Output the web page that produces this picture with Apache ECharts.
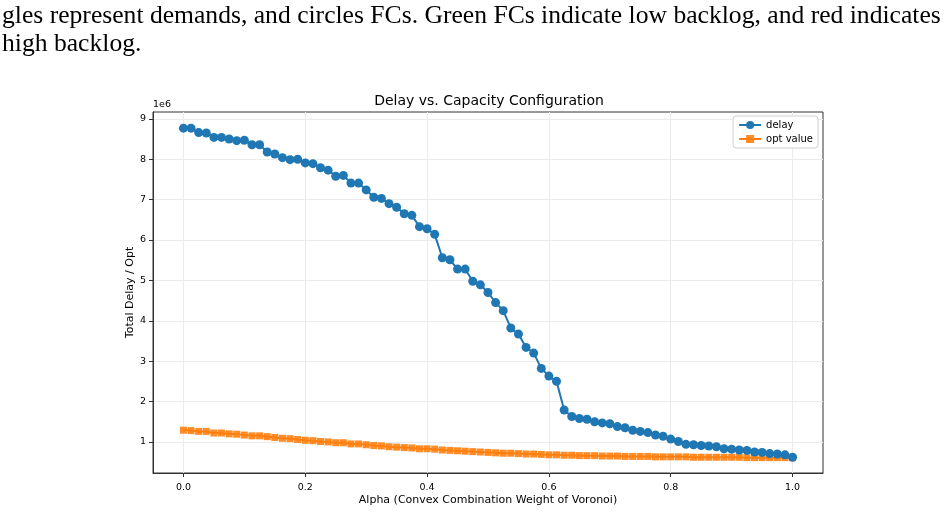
<!DOCTYPE html>
<html lang="en">
<head>
    <meta charset="UTF-8">
    <title>Delay vs. Capacity Configuration</title>
    <script src="https://cdn.jsdelivr.net/npm/echarts@6/dist/echarts.min.js"></script>
    <style>
        html, body { margin: 0; padding: 0; background: #fff; }
        #chart { width: 947px; height: 513px; }
    </style>
</head>
<body>
<div id="chart"></div>

<script>
    // alpha (x axis), 81 evenly spaced runs
    const alpha = [
        0, 0.0125, 0.025, 0.0375, 0.05, 0.0625, 0.075, 0.0875, 0.1, 0.1125,
        0.125, 0.1375, 0.15, 0.1625, 0.175, 0.1875, 0.2, 0.2125, 0.225, 0.2375,
        0.25, 0.2625, 0.275, 0.2875, 0.3, 0.3125, 0.325, 0.3375, 0.35, 0.3625,
        0.375, 0.3875, 0.4, 0.4125, 0.425, 0.4375, 0.45, 0.4625, 0.475, 0.4875,
        0.5, 0.5125, 0.525, 0.5375, 0.55, 0.5625, 0.575, 0.5875, 0.6, 0.6125,
        0.625, 0.6375, 0.65, 0.6625, 0.675, 0.6875, 0.7, 0.7125, 0.725, 0.7375,
        0.75, 0.7625, 0.775, 0.7875, 0.8, 0.8125, 0.825, 0.8375, 0.85, 0.8625,
        0.875, 0.8875, 0.9, 0.9125, 0.925, 0.9375, 0.95, 0.9625, 0.975, 0.9875,
        1.0
    ];

    // values in units of 1e6
    const delay = [
        8.77, 8.77, 8.66, 8.65, 8.54, 8.54, 8.50, 8.46, 8.47, 8.36,
        8.36, 8.18, 8.13, 8.04, 7.99, 8.00, 7.91, 7.89, 7.79, 7.73,
        7.58, 7.60, 7.41, 7.41, 7.24, 7.06, 7.03, 6.90, 6.81, 6.65,
        6.61, 6.33, 6.28, 6.14, 5.56, 5.51, 5.28, 5.28, 4.98, 4.89,
        4.70, 4.45, 4.25, 3.82, 3.67, 3.34, 3.20, 2.82, 2.63, 2.50,
        1.79, 1.63, 1.58, 1.56, 1.50, 1.47, 1.45, 1.38, 1.35, 1.29,
        1.26, 1.23, 1.17, 1.14, 1.07, 1.01, 0.94, 0.93, 0.91, 0.90,
        0.88, 0.83, 0.82, 0.80, 0.79, 0.75, 0.74, 0.71, 0.70, 0.68,
        0.62
    ];

    const optValue = [
        1.29, 1.28, 1.26, 1.26, 1.22, 1.22, 1.20, 1.19, 1.17, 1.15,
        1.15, 1.13, 1.11, 1.09, 1.08, 1.06, 1.04, 1.03, 1.01, 1.00,
        0.98, 0.98, 0.95, 0.95, 0.93, 0.91, 0.90, 0.88, 0.87, 0.86,
        0.85, 0.83, 0.83, 0.82, 0.80, 0.79, 0.78, 0.77, 0.76, 0.75,
        0.74, 0.73, 0.72, 0.72, 0.71, 0.70, 0.70, 0.69, 0.68, 0.68,
        0.67, 0.67, 0.66, 0.66, 0.66, 0.65, 0.65, 0.65, 0.64, 0.64,
        0.64, 0.64, 0.63, 0.63, 0.63, 0.63, 0.63, 0.62, 0.62, 0.62,
        0.62, 0.62, 0.62, 0.62, 0.61, 0.61, 0.61, 0.61, 0.61, 0.61,
        0.61
    ];

    const xTicks = [0, 0.2, 0.4, 0.6, 0.8, 1.0];
    const yTicks = [1, 2, 3, 4, 5, 6, 7, 8, 9];

    const captionLine1 = 'gles represent demands, and circles FCs. Green FCs indicate low backlog, and red indicates';
    const captionLine2 = 'high backlog.';

    const sans = '"DejaVu Sans", sans-serif';
    const serif = '"Liberation Serif", "DejaVu Serif", serif';

    function pairs(xs, ys) {
        return xs.map((x, i) => [x, ys[i]]);
    }

    let option = {
        animation: false,
        backgroundColor: '#fff',
        textStyle: {fontFamily: sans},
        title: {
            text: 'Delay vs. Capacity Configuration',
            left: 484,
            textAlign: 'center',
            top: 89,
            textStyle: {fontFamily: sans, fontSize: 14, fontWeight: 'normal', color: '#000'}
        },
        graphic: [
            {type: 'text', x: 2, y: 3, scaleX: 0.985, style: {text: captionLine1, font: '26px ' + serif, fill: '#000'}},
            {type: 'text', x: 2, y: 31, scaleX: 0.985, style: {text: captionLine2, font: '26px ' + serif, fill: '#000'}},
            {type: 'text', left: 153, top: 100, style: {text: '1e6', font: '9.5px ' + sans, fill: '#000'}}
        ],
        legend: {
            orient: 'vertical',
            right: 129,
            top: 116,
            padding: [4, 5, 4, 5],
            itemGap: 4,
            itemWidth: 22,
            itemHeight: 10,
            backgroundColor: '#fff',
            borderColor: '#d0d0d0',
            borderWidth: 1,
            borderRadius: 3,
            textStyle: {fontFamily: sans, fontSize: 10, color: '#000'},
            data: ['delay', 'opt value']
        },
        grid: {
            left: 153, right: 124, top: 112, bottom: 40,
            show: true, borderColor: '#333', borderWidth: 1
        },
        xAxis: {
            type: 'value',
            min: -0.05,
            max: 1.05,
            splitNumber: 5,
            name: 'Alpha (Convex Combination Weight of Voronoi)',
            nameLocation: 'middle',
            nameGap: 22,
            nameMoveOverlap: false,
            nameTextStyle: {fontFamily: sans, fontSize: 11, color: '#000'},
            axisLine: {show: true, onZero: false, lineStyle: {color: '#333'}},
            axisTick: {show: true, length: 4, customValues: xTicks, lineStyle: {color: '#333'}},
            axisLabel: {
                customValues: xTicks,
                margin: 10,
                fontSize: 9.5,
                color: '#000',
                formatter: v => v.toFixed(1)
            },
            splitLine: {show: true, lineStyle: {color: '#ebebeb', width: 1}}
        },
        yAxis: {
            type: 'value',
            min: 0.23,
            max: 9.17,
            splitNumber: 9,
            name: 'Total Delay / Opt',
            nameLocation: 'middle',
            nameGap: 17,
            nameMoveOverlap: false,
            nameTextStyle: {fontFamily: sans, fontSize: 11, color: '#000'},
            axisLine: {show: true, onZero: false, lineStyle: {color: '#333'}},
            axisTick: {show: true, length: 4, customValues: yTicks, lineStyle: {color: '#333'}},
            axisLabel: {
                customValues: yTicks,
                margin: 7,
                fontSize: 9.5,
                color: '#000',
                formatter: v => String(Math.round(v))
            },
            splitLine: {show: true, lineStyle: {color: '#ebebeb', width: 1}}
        },
        series: [
            {
                name: 'delay',
                type: 'line',
                data: pairs(alpha, delay),
                symbol: 'circle',
                symbolSize: 9,
                showAllSymbol: true,
                itemStyle: {color: '#1f77b4'},
                lineStyle: {color: '#1f77b4', width: 2},
                emphasis: {disabled: true},
                z: 3
            },
            {
                name: 'opt value',
                type: 'line',
                data: pairs(alpha, optValue),
                symbol: 'rect',
                symbolSize: 7,
                showAllSymbol: true,
                itemStyle: {color: '#ff7f0e', opacity: 0.9},
                lineStyle: {color: '#ff7f0e', width: 2},
                emphasis: {disabled: true},
                z: 2
            }
        ]
    };

    let chart = echarts.init(document.getElementById('chart'), null, {renderer: 'canvas'});
    chart.setOption(option);
</script>
</body>
</html>
